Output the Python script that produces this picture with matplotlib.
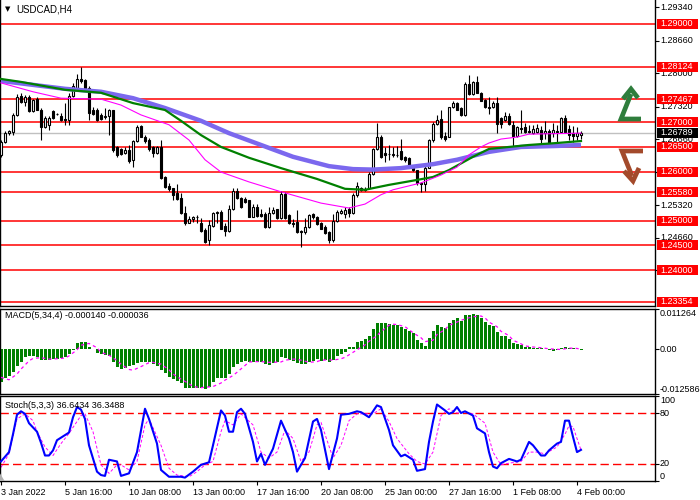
import matplotlib
matplotlib.use('Agg')
import matplotlib.pyplot as plt
import numpy as np
from matplotlib.patches import Rectangle, Polygon
from matplotlib.transforms import blended_transform_factory

plt.rcParams['font.family'] = ['Liberation Sans', 'DejaVu Sans']

# USDCAD H4 candles, 3 Jan 2022 00:00 .. 4 Feb 2022 04:00
opens = [
    1.2634, 1.2661, 1.2679, 1.2681, 1.2715, 1.2754, 1.2742, 1.2752, 1.2722, 1.2747,
    1.2726, 1.2691, 1.2695, 1.2722, 1.2717, 1.2713, 1.2707, 1.2705, 1.2754, 1.2769,
    1.2788, 1.2785, 1.2769, 1.2725, 1.2725, 1.2715, 1.2711, 1.2712, 1.2724, 1.2649,
    1.2645, 1.2637, 1.2644, 1.2623, 1.2662, 1.2693, 1.2671, 1.2665, 1.2649, 1.2638,
    1.2649, 1.2588, 1.2571, 1.2566, 1.2557, 1.2547, 1.2516, 1.2496, 1.2503, 1.2508,
    1.2496, 1.2481, 1.2461, 1.2490, 1.2516, 1.2518, 1.2490, 1.2480, 1.2525, 1.2560,
    1.2547, 1.2545, 1.2542, 1.2508, 1.2528, 1.2514, 1.2514, 1.2488, 1.2516, 1.2524,
    1.2505, 1.2554, 1.2512, 1.2495, 1.2498, 1.2479, 1.2478, 1.2488, 1.2514, 1.2507,
    1.2495, 1.2488, 1.2478, 1.2461, 1.2500, 1.2515, 1.2514, 1.2525, 1.2515, 1.2552,
    1.2562, 1.2565, 1.2566, 1.2596, 1.2645, 1.2671, 1.2637, 1.2635, 1.2634, 1.2634,
    1.2642, 1.2629, 1.2627, 1.2611, 1.2603, 1.2576, 1.2575, 1.2608, 1.2664, 1.2697,
    1.2706, 1.2672, 1.2671, 1.2731, 1.2739, 1.2729, 1.2715, 1.2778, 1.2757, 1.2781,
    1.2760, 1.2745, 1.2731, 1.2731, 1.2739, 1.2708, 1.2705, 1.2712, 1.2695, 1.2672,
    1.2689, 1.2690, 1.2683, 1.2679, 1.2681, 1.2684, 1.2678, 1.2683, 1.2679, 1.2682,
    1.2681, 1.2708, 1.2686, 1.2679, 1.2672, 1.2674]
highs = [
    1.2664, 1.2683, 1.2684, 1.2718, 1.2757, 1.2759, 1.2756, 1.2756, 1.2747, 1.2752,
    1.2730, 1.2712, 1.2712, 1.2724, 1.2718, 1.2718, 1.2739, 1.2759, 1.2779, 1.2798,
    1.2812, 1.2788, 1.2773, 1.2732, 1.2729, 1.2718, 1.2729, 1.2727, 1.2725, 1.2652,
    1.2647, 1.2649, 1.2654, 1.2664, 1.2694, 1.2695, 1.2674, 1.2668, 1.2652, 1.2652,
    1.2664, 1.2590, 1.2577, 1.2567, 1.2575, 1.2556, 1.2530, 1.2510, 1.2510, 1.2512,
    1.2505, 1.2485, 1.2501, 1.2518, 1.2520, 1.2522, 1.2495, 1.2532, 1.2566, 1.2567,
    1.2549, 1.2549, 1.2543, 1.2535, 1.2534, 1.2525, 1.2518, 1.2529, 1.2529, 1.2525,
    1.2560, 1.2559, 1.2514, 1.2503, 1.2522, 1.2481, 1.2505, 1.2514, 1.2516, 1.2510,
    1.2497, 1.2491, 1.2480, 1.2514, 1.2522, 1.2525, 1.2529, 1.2529, 1.2556, 1.2579,
    1.2569, 1.2569, 1.2600, 1.2647, 1.2699, 1.2674, 1.2649, 1.2654, 1.2649, 1.2652,
    1.2667, 1.2632, 1.2629, 1.2613, 1.2604, 1.2579, 1.2613, 1.2667, 1.2701, 1.2715,
    1.2725, 1.2681, 1.2732, 1.2744, 1.2742, 1.2732, 1.2781, 1.2796, 1.2783, 1.2794,
    1.2762, 1.2747, 1.2751, 1.2744, 1.2751, 1.2710, 1.2720, 1.2718, 1.2703, 1.2693,
    1.2725, 1.2699, 1.2695, 1.2695, 1.2697, 1.2693, 1.2703, 1.2686, 1.2698, 1.2695,
    1.2710, 1.2715, 1.2695, 1.2693, 1.2691, 1.2683]
lows = [
    1.2629, 1.2659, 1.2674, 1.2674, 1.2713, 1.2740, 1.2733, 1.2720, 1.2720, 1.2725,
    1.2664, 1.2688, 1.2684, 1.2706, 1.2714, 1.2703, 1.2695, 1.2695, 1.2752, 1.2767,
    1.2779, 1.2767, 1.2705, 1.2715, 1.2703, 1.2705, 1.2706, 1.2674, 1.2640, 1.2630,
    1.2634, 1.2635, 1.2617, 1.2609, 1.2660, 1.2670, 1.2657, 1.2642, 1.2629, 1.2636,
    1.2584, 1.2566, 1.2561, 1.2543, 1.2543, 1.2514, 1.2491, 1.2495, 1.2498, 1.2495,
    1.2478, 1.2455, 1.2450, 1.2488, 1.2496, 1.2483, 1.2469, 1.2478, 1.2522, 1.2545,
    1.2527, 1.2537, 1.2507, 1.2507, 1.2508, 1.2508, 1.2486, 1.2486, 1.2514, 1.2503,
    1.2503, 1.2503, 1.2493, 1.2488, 1.2476, 1.2447, 1.2474, 1.2486, 1.2503, 1.2491,
    1.2483, 1.2474, 1.2454, 1.2457, 1.2498, 1.2514, 1.2505, 1.2508, 1.2514, 1.2549,
    1.2561, 1.2561, 1.2564, 1.2593, 1.2644, 1.2627, 1.2620, 1.2623, 1.2630, 1.2630,
    1.2623, 1.2620, 1.2607, 1.2601, 1.2573, 1.2559, 1.2561, 1.2607, 1.2661, 1.2695,
    1.2667, 1.2663, 1.2670, 1.2729, 1.2725, 1.2713, 1.2713, 1.2755, 1.2755, 1.2759,
    1.2743, 1.2729, 1.2717, 1.2729, 1.2679, 1.2688, 1.2703, 1.2695, 1.2652, 1.2670,
    1.2679, 1.2679, 1.2678, 1.2676, 1.2679, 1.2659, 1.2667, 1.2657, 1.2671, 1.2661,
    1.2679, 1.2679, 1.2664, 1.2661, 1.2664, 1.2667]
closes = [
    1.2661, 1.2678, 1.2682, 1.2715, 1.2752, 1.2742, 1.2752, 1.2722, 1.2746, 1.2726,
    1.2691, 1.2708, 1.2708, 1.2708, 1.2716, 1.2705, 1.2705, 1.2754, 1.2773, 1.2788,
    1.2783, 1.2769, 1.2718, 1.2717, 1.2705, 1.2706, 1.2712, 1.2724, 1.2644, 1.2634,
    1.2636, 1.2644, 1.2622, 1.2662, 1.2691, 1.2671, 1.2662, 1.2645, 1.2637, 1.2649,
    1.2586, 1.2569, 1.2564, 1.2552, 1.2545, 1.2515, 1.2495, 1.2504, 1.2508, 1.2508,
    1.2480, 1.2457, 1.2491, 1.2516, 1.2517, 1.2484, 1.2480, 1.2525, 1.2560, 1.2547,
    1.2528, 1.2539, 1.2508, 1.2528, 1.2510, 1.2510, 1.2488, 1.2516, 1.2523, 1.2505,
    1.2554, 1.2505, 1.2495, 1.2493, 1.2478, 1.2477, 1.2488, 1.2512, 1.2508, 1.2493,
    1.2484, 1.2476, 1.2461, 1.2500, 1.2518, 1.2520, 1.2523, 1.2515, 1.2552, 1.2571,
    1.2567, 1.2562, 1.2596, 1.2645, 1.2671, 1.2630, 1.2634, 1.2636, 1.2636, 1.2633,
    1.2625, 1.2623, 1.2608, 1.2603, 1.2576, 1.2575, 1.2608, 1.2664, 1.2697, 1.2705,
    1.2670, 1.2667, 1.2731, 1.2739, 1.2726, 1.2715, 1.2778, 1.2757, 1.2781, 1.2760,
    1.2744, 1.2731, 1.2730, 1.2739, 1.2697, 1.2697, 1.2712, 1.2697, 1.2672, 1.2690,
    1.2687, 1.2681, 1.2681, 1.2686, 1.2688, 1.2667, 1.2683, 1.2659, 1.2684, 1.2680,
    1.2708, 1.2681, 1.2674, 1.2672, 1.2679, 1.2679]

# moving averages (bar index, price)
ma_fast_bars = [0, 8, 15, 25, 30, 35, 42, 47, 51, 55, 62, 70, 80, 87, 91, 95, 98,
                105, 110, 114, 117, 120, 122, 125, 129, 132, 145]
ma_fast = [1.2780, 1.2762, 1.2749, 1.2747, 1.2735, 1.2715, 1.2695, 1.2664, 1.2624,
           1.2599, 1.2579, 1.2559, 1.2536, 1.2526, 1.2534, 1.2553, 1.2563, 1.2577,
           1.2593, 1.2609, 1.2634, 1.2650, 1.2658, 1.2666, 1.2670, 1.2676, 1.2678]
ma_mid_bars = [0, 5, 16, 25, 33, 41, 45, 50, 55, 62, 70, 79, 86, 91, 97, 104, 108,
               112, 118, 122, 127, 132, 139, 145]
ma_mid = [1.2788, 1.2782, 1.2766, 1.2760, 1.2739, 1.2725, 1.2703, 1.2674, 1.2650,
          1.2628, 1.2607, 1.2585, 1.2565, 1.2563, 1.2573, 1.2583, 1.2589, 1.2603,
          1.2630, 1.2646, 1.2650, 1.2654, 1.2658, 1.2662]
ma_slow_bars = [0, 8, 16, 25, 33, 41, 50, 57, 65, 73, 82, 88, 93, 100, 108, 114,
                122, 130, 139, 145]
ma_slow = [1.2784, 1.2776, 1.2768, 1.2762, 1.2749, 1.2729, 1.2703, 1.2678, 1.2654,
           1.2630, 1.2611, 1.2605, 1.2604, 1.2607, 1.2615, 1.2624, 1.2640, 1.2650,
           1.2652, 1.2654]

level_lines = [1.29, 1.28124, 1.27467, 1.27, 1.265, 1.26, 1.2558, 1.25, 1.245,
               1.24, 1.23354]
price_ticks = [1.2934, 1.2866, 1.2800, 1.2732, 1.2666, 1.2600, 1.2532, 1.2466,
               1.2400]
last_price = 1.26789

# MACD(5,34,4)
macd_hist = [
    -0.0092, -0.0082, -0.0075, -0.0064, -0.0047, -0.0036, -0.0023, -0.0019, -0.0019, -0.0021,
    -0.0030, -0.0030, -0.0030, -0.0028, -0.0028, -0.0026, -0.0023, -0.0014, -0.0002, 0.0016,
    0.0019, 0.0019, 0.0007, 0.0001, -0.0012, -0.0014, -0.0017, -0.0019, -0.0036, -0.0049,
    -0.0056, -0.0054, -0.0047, -0.0045, -0.0039, -0.0037, -0.0036, -0.0037, -0.0042, -0.0047,
    -0.0058, -0.0068, -0.0077, -0.0084, -0.0089, -0.0095, -0.0108, -0.0108, -0.0108, -0.0108,
    -0.0108, -0.0112, -0.0105, -0.0092, -0.0082, -0.0082, -0.0082, -0.0070, -0.0051, -0.0042,
    -0.0037, -0.0033, -0.0037, -0.0037, -0.0036, -0.0037, -0.0042, -0.0045, -0.0039, -0.0037,
    -0.0023, -0.0026, -0.0030, -0.0033, -0.0039, -0.0042, -0.0042, -0.0036, -0.0033, -0.0028,
    -0.0033, -0.0030, -0.0037, -0.0030, -0.0019, -0.0014, -0.0007, 0.0005, 0.0007, 0.0021,
    0.0023, 0.0028, 0.0036, 0.0056, 0.0073, 0.0072, 0.0072, 0.0071, 0.0069, 0.0068,
    0.0061, 0.0057, 0.0052, 0.0046, 0.0025, 0.0016, 0.0010, 0.0030, 0.0050, 0.0067,
    0.0063, 0.0060, 0.0074, 0.0083, 0.0086, 0.0079, 0.0095, 0.0095, 0.0100, 0.0095,
    0.0086, 0.0077, 0.0068, 0.0065, 0.0048, 0.0038, 0.0036, 0.0028, 0.0016, 0.0014,
    0.0011, 0.0007, 0.0005, 0.0004, 0.0003, 0.0002, 0.0001, -0.0002, -0.0004, -0.0003,
    0.0004, 0.0006, 0.0004, 0.0002, 0.0001, -0.00014]
macd_sig_bars = [0, 2, 4, 5, 7, 8, 10, 12, 14, 16, 17, 19, 20, 22, 24, 25, 27, 29,
                 30, 32, 33, 35, 37, 38, 40, 42, 43, 45, 47, 48, 50, 53, 55, 56, 58,
                 59, 61, 62, 64, 65, 67, 68, 70, 71, 73, 74, 76, 77, 79, 80, 82, 83,
                 85, 86, 88, 89, 91, 92, 94, 95, 97, 98, 99, 101, 102, 103, 105, 106,
                 108, 109, 111, 112, 114, 115, 117, 118, 120, 121, 122, 124, 125, 127,
                 128, 130, 131, 133, 135, 137, 140, 142, 144, 145]
macd_sig = [-0.0079, -0.0086, -0.0070, -0.0056, -0.0033, -0.0026, -0.0024, -0.0028,
            -0.0027, -0.0025, -0.0019, -0.0002, 0.0011, 0.0016, 0.0004, -0.0009,
            -0.0017, -0.0032, -0.0042, -0.0057, -0.0059, -0.0049, -0.0038, -0.0037,
            -0.0042, -0.0058, -0.0070, -0.0084, -0.0097, -0.0105, -0.0108, -0.0105,
            -0.0095, -0.0087, -0.0074, -0.0065, -0.0046, -0.0036, -0.0035, -0.0035,
            -0.0037, -0.0037, -0.0036, -0.0031, -0.0028, -0.0028, -0.0034, -0.0037,
            -0.0035, -0.0031, -0.0030, -0.0031, -0.0027, -0.0023, -0.0009, -0.0002,
            0.0012, 0.0022, 0.0038, 0.0049, 0.0067, 0.0070, 0.0069, 0.0063, 0.0055,
            0.0046, 0.0032, 0.0021, 0.0025, 0.0041, 0.0055, 0.0067, 0.0076, 0.0081,
            0.0088, 0.0091, 0.0093, 0.0088, 0.0076, 0.0063, 0.0050, 0.0038, 0.0025,
            0.0015, 0.0009, 0.0006, 0.0004, 0.0001, -0.0001, 0.0003, 0.0002, -0.000036]
macd_max, macd_min = 0.011264, -0.012586

# Stochastic(5,3,3)
stoch_bars = [0, 2, 3, 4, 5, 6, 7, 9, 10, 11, 12, 13, 14, 16, 17, 18, 19, 20, 21, 22,
              24, 25, 26, 27, 29, 30, 32, 34, 36, 37, 39, 40, 42, 45, 46, 48, 50, 52,
              53, 55, 56, 57, 58, 59, 60, 61, 63, 64, 65, 66, 68, 70, 72, 73, 74, 76,
              78, 79, 80, 82, 84, 85, 87, 89, 90, 92, 94, 95, 97, 98, 100, 101, 103,
              104, 106, 107, 108, 109, 111, 112, 113, 114, 115, 116, 118, 119, 121,
              122, 123, 124, 125, 127, 129, 130, 132, 133, 135, 136, 137, 139, 140,
              141, 142, 143, 144, 145]
stoch_main = [23, 34, 55, 78, 82, 79, 68, 58, 45, 30, 30, 36, 48, 54, 57, 75, 87, 84,
              73, 42, 11, 7, 6, 25, 23, 6, 9, 34, 85, 73, 44, 13, 5, 5, 4, 11, 19, 22,
              42, 83, 77, 58, 58, 81, 85, 79, 46, 23, 32, 19, 38, 71, 50, 34, 11, 27,
              70, 73, 60, 14, 50, 78, 79, 82, 81, 75, 89, 87, 60, 42, 29, 31, 25, 12,
              14, 46, 70, 90, 83, 79, 81, 87, 80, 82, 77, 62, 56, 34, 17, 15, 21, 26,
              23, 25, 46, 42, 30, 30, 36, 44, 46, 71, 71, 52, 34, 36.6434]
stoch_sig_bars = [0, 2, 4, 6, 8, 9, 11, 13, 15, 17, 20, 21, 23, 25, 27, 29, 30, 32,
                  34, 36, 37, 40, 42, 44, 47, 49, 51, 53, 55, 56, 58, 60, 63, 65, 67,
                  69, 71, 73, 75, 77, 79, 80, 83, 85, 87, 89, 93, 95, 97, 99, 102,
                  104, 106, 108, 110, 112, 114, 116, 118, 121, 123, 125, 127, 130,
                  132, 134, 136, 139, 141, 142, 143, 144, 145]
stoch_sig = [16, 32, 73, 79, 71, 58, 40, 30, 44, 56, 77, 79, 58, 19, 9, 19, 19, 13,
             23, 66, 73, 42, 15, 7, 5, 11, 19, 23, 58, 71, 66, 79, 66, 34, 27, 34, 60,
             50, 23, 34, 66, 69, 27, 42, 71, 79, 79, 85, 70, 50, 32, 23, 20, 34, 77,
             85, 80, 81, 79, 68, 34, 19, 21, 23, 34, 34, 32, 40, 55, 65, 64, 50, 36.3488]

time_tick_bars = [0, 16, 32, 48, 64, 80, 96, 112, 128, 144]
time_labels = ['3 Jan 2022', '5 Jan 16:00', '10 Jan 08:00', '13 Jan 00:00',
               '17 Jan 16:00', '20 Jan 08:00', '25 Jan 00:00', '27 Jan 16:00',
               '1 Feb 08:00', '4 Feb 00:00']

# ---------------------------------------------------------------- layout
W, H = 700.0, 500.0
fig = plt.figure(figsize=(7, 5), dpi=100)


def px_axes(x0, y0, x1, y1):
    return fig.add_axes([x0 / W, 1 - y1 / H, (x1 - x0) / W, (y1 - y0) / H])


ax = px_axes(0, 0, 655, 306)
ax_m = px_axes(0, 309, 655, 394)
ax_s = px_axes(0, 396, 655, 481)
FS = 6.5

for a in (ax, ax_m, ax_s):
    a.set_xlim(-0.25, 163.5)
    for s in a.spines.values():
        s.set_color('black')
        s.set_linewidth(1.0)
    a.yaxis.tick_right()
    a.tick_params(axis='y', length=3, width=0.8, labelright=False, labelleft=False)
    a.tick_params(axis='x', length=0, labelbottom=False)
ax.spines['top'].set_visible(False)

# ---------------------------------------------------------------- price panel
o = np.array(opens)
h = np.array(highs)
l = np.array(lows)
c = np.array(closes)
x = np.arange(len(o))
ax.set_ylim(1.23271, 1.29483)

for lv in level_lines:
    ax.axhline(lv, color='red', lw=1.1, zorder=1)
ax.axhline(last_price, color='#c0c0c0', lw=1.0, zorder=1)

ax.vlines(x, l, h, color='black', lw=0.8, zorder=3)
up = c >= o
body_lo = np.minimum(o, c)
body_h = np.maximum(np.abs(c - o), 0.00003)
ax.bar(x[up], body_h[up], bottom=body_lo[up], width=0.72, color='white',
       edgecolor='black', lw=0.8, zorder=4)
ax.bar(x[~up], body_h[~up], bottom=body_lo[~up], width=0.72, color='black',
       edgecolor='black', lw=0.8, zorder=4)

ax.plot(ma_slow_bars, ma_slow, color='#7b68ee', lw=3.2, zorder=5,
        solid_capstyle='butt')
ax.plot(ma_mid_bars, ma_mid, color='#008000', lw=1.6, zorder=6)
ax.plot(ma_fast_bars, ma_fast, color='#ff00ff', lw=0.8, zorder=7)

ax.set_yticks(price_ticks)
ax.set_xticks([])
tr = blended_transform_factory(ax.transAxes, ax.transData)
for v in price_ticks:
    ax.text(1.0076, v, '%.5f' % v, transform=tr, fontsize=FS, va='center',
            ha='left', color='black', clip_on=False, zorder=8)

box_h = (1.29483 - 1.23271) / 306 * 10
for lv in level_lines:
    ax.add_patch(Rectangle((1.0023, lv - box_h / 2), 0.0626, box_h, transform=tr,
                           facecolor='red', edgecolor='none', clip_on=False,
                           zorder=9))
    ax.text(1.0076, lv, '%.5f' % lv, transform=tr, fontsize=FS, va='center',
            ha='left', color='white', clip_on=False, zorder=10)
ax.add_patch(Rectangle((1.0023, last_price - box_h / 2), 0.0626, box_h,
                       transform=tr, facecolor='black', edgecolor='none',
                       clip_on=False, zorder=9))
ax.text(1.0076, last_price, '%.5f' % last_price, transform=tr, fontsize=FS,
        va='center', ha='left', color='white', clip_on=False, zorder=10)


# trade direction arrows (figure pixels -> axes fraction)
def arrow_pts(pts):
    return [p[0] / 655.0 for p in pts], [1 - p[1] / 306.0 for p in pts]


for pts, col in [([(641, 119), (621, 119), (631, 94)], '#2e7d3c'),
                 ([(623, 99), (631, 89), (638, 98)], '#2e7d3c'),
                 ([(643, 151), (622, 151), (632, 176)], '#a34a2b'),
                 ([(624, 171), (633, 181), (639, 168)], '#a34a2b')]:
    xs, ys = arrow_pts(pts)
    ax.plot(xs, ys, color=col, lw=3.4, transform=ax.transAxes, zorder=8,
            solid_joinstyle='miter', solid_capstyle='butt')

fig.text(5 / W, 1 - 9 / H, '\u25bc', fontsize=5, family='DejaVu Sans',
         va='center', ha='left')
fig.text(16 / W, 1 - 9 / H, 'USDCAD,H4', fontsize=7, va='center', ha='left')

# ---------------------------------------------------------------- MACD panel
hist = np.array(macd_hist)
ax_m.bar(x, hist, width=0.75, color='#008000', zorder=2)
ax_m.plot(macd_sig_bars, macd_sig, color='#ff00ff', lw=0.9, ls=(0, (2.5, 2.5)),
          zorder=3)
ax_m.set_ylim(macd_min, macd_max)
ax_m.set_yticks([macd_min, 0, macd_max])
ax_m.set_xticks([])
mtr = ax_m.get_yaxis_transform()
ax_m.text(1.0076, macd_max, '0.011264', transform=mtr,
          fontsize=FS, va='top', ha='left', clip_on=False)
ax_m.text(1.0076, 0, '0.00', transform=mtr,
          fontsize=FS, va='center', ha='left', clip_on=False)
ax_m.text(1.0076, macd_min, '-0.012586', transform=mtr,
          fontsize=FS, va='bottom', ha='left', clip_on=False)
fig.text(5 / W, 1 - 316 / H, 'MACD(5,34,4) -0.000140 -0.000036', fontsize=FS,
         va='center', ha='left')

# ---------------------------------------------------------------- Stochastic panel
ax_s.axhline(80, color='red', lw=1.0, ls=(0, (6, 3)), zorder=1)
ax_s.axhline(20, color='red', lw=1.0, ls=(0, (6, 3)), zorder=1)
ax_s.plot(stoch_sig_bars, stoch_sig, color='#ff00ff', lw=0.7, ls=(0, (3, 2)),
          zorder=2)
ax_s.plot(stoch_bars, stoch_main, color='#0000ff', lw=1.5, zorder=3)
ax_s.set_ylim(0, 100)
ax_s.set_yticks([0, 20, 80, 100])
ax_s.add_patch(Polygon([(0, 0), (0.007, 0), (0, 0.09)], closed=True,
                       transform=ax_s.transAxes, facecolor='#b0b0b0',
                       edgecolor='none', zorder=4))
ytr = ax_s.get_yaxis_transform()
ax_s.text(1.0076, 100, '100', transform=ytr, fontsize=FS, va='top', ha='left', clip_on=False)
ax_s.text(1.0076, 80, '80', transform=ytr, fontsize=FS, va='center', ha='left', clip_on=False)
ax_s.text(1.0076, 20, '20', transform=ytr, fontsize=FS, va='center', ha='left', clip_on=False)
ax_s.text(1.0076, 0, '0', transform=ytr, fontsize=FS, va='bottom', ha='left', clip_on=False)
fig.text(5 / W, 1 - 406 / H, 'Stoch(5,3,3) 36.6434 36.3488', fontsize=FS,
         va='center', ha='left')

ax_s.set_xticks(time_tick_bars)
ax_s.set_xticklabels(time_labels, ha='left', fontsize=FS)
ax_s.tick_params(axis='x', length=3, width=0.8, labelbottom=True, pad=2)

fig.savefig('out.png', dpi=100)
